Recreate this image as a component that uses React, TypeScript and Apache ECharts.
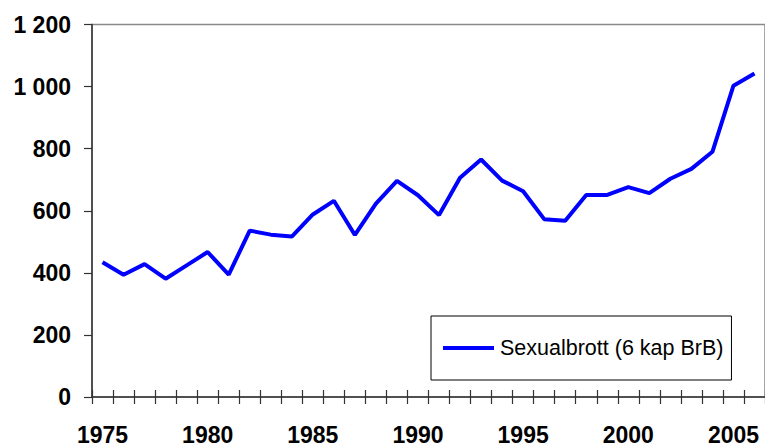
import React, { useEffect, useRef } from "react";
import * as echarts from "echarts";

const years: string[] = [
  "1975", "1976", "1977", "1978", "1979", "1980", "1981", "1982", "1983", "1984",
  "1985", "1986", "1987", "1988", "1989", "1990", "1991", "1992", "1993", "1994",
  "1995", "1996", "1997", "1998", "1999", "2000", "2001", "2002", "2003", "2004",
  "2005", "2006",
];
const sexualbrott: number[] = [
  434, 394, 428, 381, 424, 467, 394, 536, 523, 517,
  588, 632, 522, 623, 696, 650, 586, 706, 765, 697,
  663, 573, 568, 651, 651, 676, 657, 703, 735, 790,
  1003, 1042,
];
const seriesName = "Sexualbrott (6 kap BrB)";
const yTicks: number[] = [0, 200, 400, 600, 800, 1000, 1200];

const FONT = "'Liberation Sans', Arial, sans-serif";

export default function App() {
  const ref = useRef<HTMLDivElement>(null);
  useEffect(() => {
    document.body.style.margin = "0";
    const chart = echarts.init(ref.current!, undefined, { renderer: "svg" });
    chart.setOption({
      animation: false,
      backgroundColor: "#ffffff",
      grid: {
        left: 92,
        top: 24.5,
        bottom: 46,
        right: -3,
        show: true,
        borderColor: "#8a8a8a",
        borderWidth: 1.5,
        backgroundColor: "transparent",
      },
      legend: {
        show: true,
        left: 431,
        top: 316,
        orient: "horizontal",
        padding: [21, 8, 21, 12],
        borderColor: "#000000",
        borderWidth: 1,
        backgroundColor: "#ffffff",
        itemWidth: 51,
        itemHeight: 14,
        itemGap: 0,
        textStyle: {
          fontFamily: FONT,
          fontSize: 21.5,
          color: "#000000",
          lineHeight: 21,
          padding: [0, 0, 0, 1],
        },
        data: [{ name: seriesName, icon: "path://M0,0 L51,0 L51,4 L0,4 Z" }],
      },
      xAxis: [
        {
          type: "category",
          data: years,
          boundaryGap: true,
          axisLine: { show: true, lineStyle: { color: "#333333", width: 1.5 } },
          axisTick: {
            show: true,
            interval: 0,
            inside: false,
            length: 7,
            lineStyle: { color: "#333333", width: 1.2 },
          },
          axisLabel: {
            interval: 4,
            margin: 26,
            fontFamily: FONT,
            fontSize: 23,
            fontWeight: "bold",
            color: "#000000",
          },
          splitLine: { show: false },
        },
        {
          type: "category",
          data: years,
          position: "bottom",
          boundaryGap: true,
          axisLine: { show: false },
          axisTick: {
            show: true,
            interval: 0,
            inside: true,
            length: 7,
            lineStyle: { color: "#333333", width: 1.2 },
          },
          axisLabel: { show: false },
          splitLine: { show: false },
        },
      ],
      yAxis: {
        type: "value",
        min: yTicks[0],
        max: yTicks[yTicks.length - 1],
        interval: 200,
        axisLine: { show: true, lineStyle: { color: "#333333", width: 1.5 } },
        axisTick: { show: true, length: 8, lineStyle: { color: "#333333", width: 1.2 } },
        axisLabel: {
          margin: 21,
          fontFamily: FONT,
          fontSize: 23,
          fontWeight: "bold",
          color: "#000000",
          formatter: (v: number) =>
            String(v).replace(/\B(?=(\d{3})+(?!\d))/g, " "),
        },
        splitLine: { show: false },
      },
      series: [
        {
          name: seriesName,
          type: "line",
          data: sexualbrott,
          showSymbol: false,
          symbol: "none",
          color: "#0000ff",
          lineStyle: { color: "#0000ff", width: 4 },
        },
      ],
    });
    return () => chart.dispose();
  }, []);
  return <div ref={ref} style={{ width: 765, height: 446 }} />;
}
